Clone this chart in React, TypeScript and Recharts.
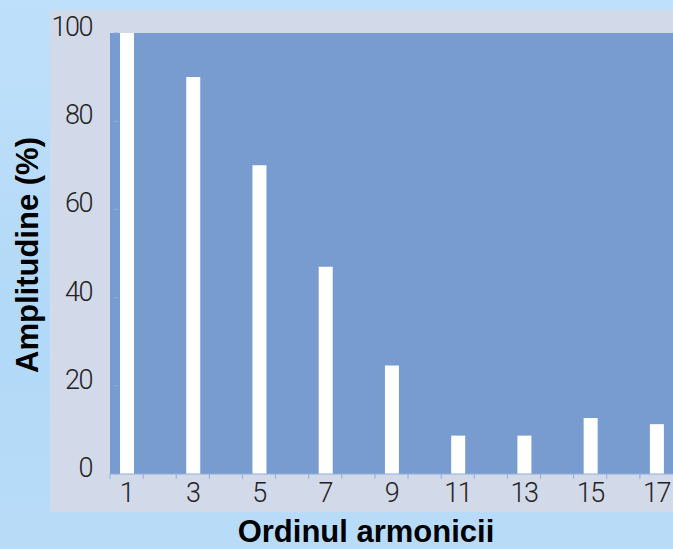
import { BarChart, Bar, XAxis, YAxis, CartesianGrid } from 'recharts'

// harmonic order (1..17), only odd harmonics carry amplitude
const harmonics = ['1', '2', '3', '4', '5', '6', '7', '8', '9', '10', '11', '12', '13', '14', '15', '16', '17']
const amplitude: (number | null)[] = [100, null, 90, null, 70, null, 47, null, 24.6, null, 8.7, null, 8.7, null, 12.7, null, 11.3]
const yTicks = [0, 20, 40, 60, 80, 100]

const data = harmonics.map((h, i) => ({ h, v: amplitude[i] }))

const TICK_FONT = {
  fontFamily: 'Roboto, "DejaVu Sans", sans-serif',
  fontWeight: 300,
  fontSize: 27,
  letterSpacing: -1.5,
  fill: '#222',
}
const AXIS_BLUE = '#8EAEDD'

// eslint-disable-next-line @typescript-eslint/no-explicit-any
function HarmonicTick({ x, y, payload, width }: any) {
  const band = (width ?? 563) / harmonics.length
  const n = Number(payload.value)
  return (
    <g>
      <line x1={x - band / 2} x2={x - band / 2} y1={y - 8} y2={y - 3} stroke={AXIS_BLUE} strokeWidth={1} />
      {n % 2 === 1 && (
        <text x={x} y={y + 20} textAnchor="middle" style={TICK_FONT}>
          {payload.value}
        </text>
      )}
    </g>
  )
}

// eslint-disable-next-line @typescript-eslint/no-explicit-any
function AmpTick({ x, y, payload }: any) {
  return (
    <g>
      <line x1={x + 12} x2={x + 16} y1={y} y2={y} stroke={AXIS_BLUE} strokeWidth={1} />
      <text x={x - 10} y={y + 3} textAnchor="end" style={TICK_FONT}>
        {payload.value}
      </text>
    </g>
  )
}

export default function App() {
  return (
    <div
      style={{
        position: 'absolute',
        left: 0,
        top: 0,
        width: 673,
        height: 549,
        overflow: 'hidden',
        background: 'linear-gradient(180deg, #BFE0FA 0%, #B2D9F8 60%, #B8DCF8 100%)',
      }}
    >
      {/* grey panel behind the plot */}
      <div style={{ position: 'absolute', left: 50, top: 10, width: 623, height: 502, background: '#D2D9E8' }} />
      <div style={{ position: 'absolute', left: 0, top: 0 }}>
        <BarChart width={673} height={549} data={data} margin={{ top: 33, right: 0, bottom: 45, left: 50 }}>
          <CartesianGrid horizontal={false} vertical={false} fill="#789CCF" />
          <XAxis
            dataKey="h"
            interval={0}
            height={30}
            axisLine={{ stroke: AXIS_BLUE }}
            tickLine={false}
            tick={<HarmonicTick />}
            label={{
              content: () => (
                <text
                  x={366}
                  y={542}
                  textAnchor="middle"
                  style={{ fontFamily: '"Liberation Sans", Arial, sans-serif', fontWeight: 700, fontSize: 31, fill: '#000' }}
                >
                  Ordinul armonicii
                </text>
              ),
            }}
          />
          <YAxis
            domain={[0, 100]}
            ticks={yTicks}
            width={60}
            axisLine={false}
            tickLine={false}
            tick={<AmpTick />}
            label={{
              content: () => (
                <text
                  x={0}
                  y={0}
                  transform="translate(38 255) rotate(-90)"
                  textAnchor="middle"
                  style={{ fontFamily: '"Liberation Sans", Arial, sans-serif', fontWeight: 700, fontSize: 31, fill: '#000' }}
                >
                  Amplitudine (%)
                </text>
              ),
            }}
          />
          <Bar dataKey="v" fill="#FFFFFF" barSize={14} isAnimationActive={false} />
        </BarChart>
      </div>
    </div>
  )
}
